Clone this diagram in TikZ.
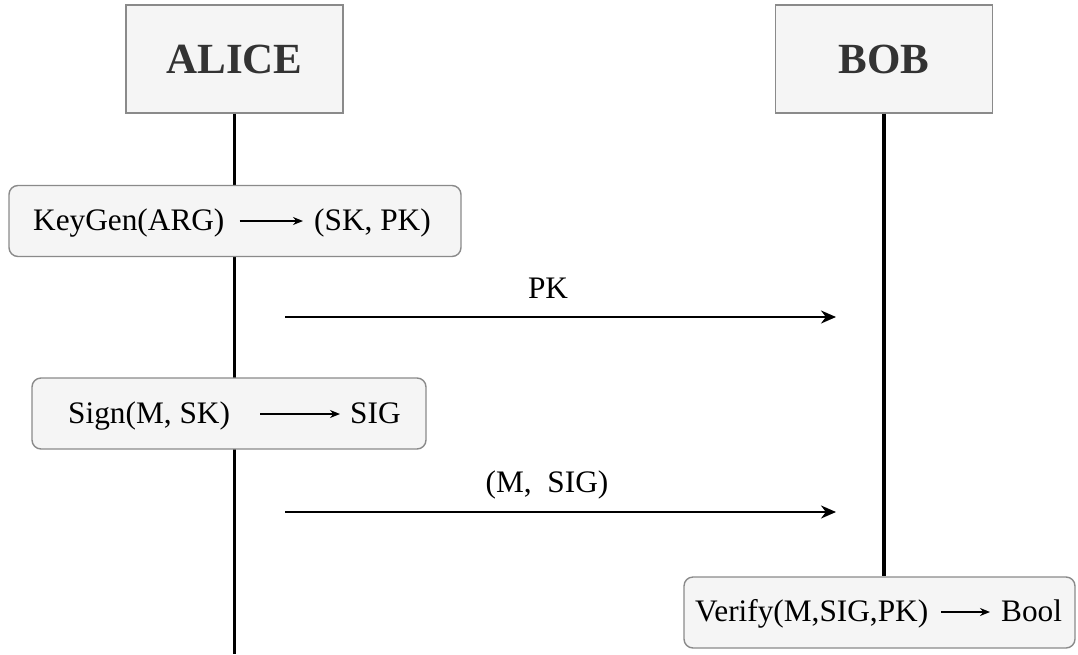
\documentclass[tikz,border=0pt]{standalone}
\usepackage{fontspec}
\setmainfont{Liberation Serif}
\usetikzlibrary{arrows.meta}
\definecolor{boxgray}{HTML}{F5F5F5}
\definecolor{boxline}{HTML}{8A8A8A}
\definecolor{textdark}{HTML}{333333}
\tikzset{
  head/.style={draw=boxline, line width=1.4pt, fill=boxgray, minimum width=217pt, minimum height=108pt, inner sep=0pt, text=textdark, font=\fontsize{43}{50}\selectfont\bfseries},
  act/.style={draw=boxline, line width=1.4pt, fill=boxgray, rounded corners=9pt, inner sep=0pt, minimum height=71pt},
  lbl/.style={font=\fontsize{31.3}{36}\selectfont, inner sep=0pt, anchor=base west},
  mlbl/.style={font=\fontsize{31.3}{36}\selectfont, inner sep=0pt, anchor=base},
  msg/.style={-{Stealth[length=15pt,width=13pt]}, line width=2.2pt},
  inarrow/.style={-{Stealth[length=10pt,width=8pt]}, line width=1.5pt},
  life/.style={line width=3.5pt}
}
\begin{document}
\begin{tikzpicture}[x=1pt,y=-1pt]
\useasboundingbox (0,0) rectangle (1078,654);
% headers
\node[head] (alice) at (234.5,59) {ALICE};
\node[head] (bob) at (884,59) {BOB};
% lifeline of Alice, then activity boxes over it
\coordinate (aend) at (234.5,654);
\draw[life] (alice.south) -- (aend);
\node[act, minimum width=452pt] (kg) at (235,221) {};
\node[act, minimum width=394pt] (sg) at (229,413.5) {};
\node[act, minimum width=391pt] (vf) at (879.5,612.5) {};
\draw[life, line width=4pt] (bob.south) -- (bob.south |- vf.north);
% KeyGen
\node[lbl] (kgl) at (33,230) {KeyGen(ARG)};
\node[lbl] (kgr) at (314,230) {(SK, PK)};
\draw[inarrow, shorten <=15pt, shorten >=11pt] ([yshift=9pt]kgl.base east) -- ([yshift=9pt]kgr.base west);
% Sign
\node[lbl] (sgl) at (68,423) {Sign(M, SK)};
\node[lbl] (sgr) at (350,423) {SIG};
\draw[inarrow, shorten <=30pt, shorten >=10pt] ([yshift=9pt]sgl.base east) -- ([yshift=9pt]sgr.base west);
% Verify
\node[lbl] (vfl) at (695,621) {Verify(M,SIG,PK)};
\node[lbl] (vfr) at (1001,621) {Bool};
\draw[inarrow, shorten <=13pt, shorten >=11pt] ([yshift=9pt]vfl.base east) -- ([yshift=9pt]vfr.base west);
% messages
\coordinate (pka) at (285,317);
\coordinate (pkb) at (836,317);
\draw[msg] (pka) -- (pkb);
\node[mlbl] (pkl) at (548,298) {PK};
\coordinate (msa) at (285,512);
\coordinate (msb) at (836,512);
\draw[msg] (msa) -- (msb);
\node[mlbl] (msl) at (547,492) {(M,\ \ SIG)};
\end{tikzpicture}
\end{document}
